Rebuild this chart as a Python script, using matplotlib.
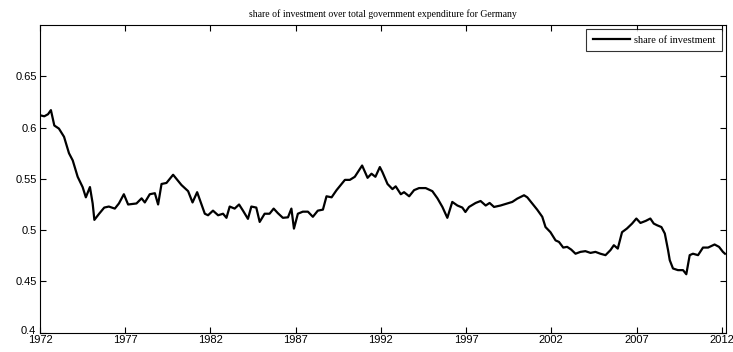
import matplotlib.pyplot as plt
from matplotlib.transforms import ScaledTranslation

# Share of investment in total government expenditure, Germany
years = [1972.00, 1972.25, 1972.47, 1972.64, 1972.84, 1973.11, 1973.41, 1973.70, 1973.92,
         1974.21, 1974.50, 1974.69, 1974.93, 1975.09, 1975.19, 1975.47, 1975.77, 1976.04,
         1976.39, 1976.63, 1976.92, 1977.17, 1977.66, 1977.96, 1978.15, 1978.44, 1978.74,
         1978.93, 1979.13, 1979.42, 1979.81, 1980.30, 1980.69, 1980.95, 1981.22, 1981.67,
         1981.86, 1982.15, 1982.45, 1982.74, 1982.94, 1983.13, 1983.42, 1983.68, 1983.91,
         1984.20, 1984.40, 1984.69, 1984.89, 1985.18, 1985.47, 1985.71, 1985.96, 1986.25,
         1986.55, 1986.75, 1986.90, 1987.13, 1987.42, 1987.72, 1988.01, 1988.30, 1988.60,
         1988.81, 1989.11, 1989.40, 1989.89, 1990.18, 1990.47, 1990.90, 1991.22, 1991.45,
         1991.68, 1991.94, 1992.09, 1992.39, 1992.68, 1992.87, 1993.17, 1993.36, 1993.66,
         1993.95, 1994.24, 1994.63, 1995.02, 1995.32, 1995.61, 1995.90, 1996.19, 1996.49,
         1996.78, 1996.96, 1997.17, 1997.56, 1997.85, 1998.15, 1998.38, 1998.64, 1999.02,
         1999.42, 1999.71, 2000.00, 2000.40, 2000.59, 2000.88, 2001.17, 2001.47, 2001.66,
         2001.95, 2002.25, 2002.45, 2002.70, 2002.93, 2003.17, 2003.42, 2003.71, 2004.00,
         2004.30, 2004.59, 2004.88, 2005.18, 2005.47, 2005.67, 2005.90, 2006.15, 2006.44,
         2006.74, 2006.99, 2007.23, 2007.54, 2007.81, 2008.01, 2008.20, 2008.46, 2008.66,
         2008.85, 2008.95, 2009.14, 2009.43, 2009.73, 2009.92, 2010.12, 2010.31, 2010.61,
         2010.90, 2011.20, 2011.58, 2011.84, 2012.07, 2012.19]
share = [0.612, 0.611, 0.613, 0.617, 0.602, 0.599, 0.591, 0.575, 0.568,
         0.552, 0.542, 0.532, 0.542, 0.526, 0.510, 0.516, 0.522, 0.523,
         0.521, 0.526, 0.535, 0.525, 0.526, 0.531, 0.527, 0.535, 0.536,
         0.525, 0.545, 0.546, 0.554, 0.544, 0.538, 0.527, 0.537, 0.516,
         0.5145, 0.519, 0.5145, 0.516, 0.512, 0.523, 0.521, 0.525, 0.519,
         0.511, 0.523, 0.522, 0.508, 0.516, 0.516, 0.521, 0.5165, 0.512,
         0.5125, 0.521, 0.5015, 0.516, 0.518, 0.518, 0.513, 0.519, 0.520,
         0.533, 0.532, 0.539, 0.549, 0.549, 0.552, 0.563, 0.551, 0.555,
         0.552, 0.5615, 0.5566, 0.545, 0.540, 0.5427, 0.535, 0.537, 0.533,
         0.539, 0.541, 0.541, 0.538, 0.531, 0.5226, 0.512, 0.5275, 0.524,
         0.522, 0.5177, 0.5226, 0.5265, 0.5284, 0.524, 0.5265, 0.5226, 0.524,
         0.526, 0.5275, 0.5307, 0.534, 0.532, 0.526, 0.520, 0.513, 0.503,
         0.498, 0.490, 0.4885, 0.483, 0.4837, 0.481, 0.477, 0.4788, 0.4795,
         0.4778, 0.4788, 0.477, 0.4756, 0.4805, 0.4853, 0.482, 0.498, 0.5016,
         0.5064, 0.5113, 0.507, 0.509, 0.5113, 0.5064, 0.5048, 0.503, 0.4967,
         0.4805, 0.4707, 0.4626, 0.461, 0.461, 0.457, 0.4756, 0.477, 0.4756,
         0.483, 0.483, 0.486, 0.4837, 0.4788, 0.477]

xticks = [1972, 1977, 1982, 1987, 1992, 1997, 2002, 2007, 2012]
yticks = [0.4, 0.45, 0.5, 0.55, 0.6, 0.65]
ytick_labels = ['0.4', '0.45', '0.5', '0.55', '0.6', '0.65']

fig = plt.figure(figsize=(7.33, 3.52), dpi=100)
ax = fig.add_axes([40 / 733, 1 - 332.7 / 352, 686 / 733, 307.7 / 352])

ax.plot(years, share, color='black', linewidth=1.6, label='share of investment')

ax.set_xlim(1972, 2012.25)
ax.set_ylim(0.4, 0.7)
ax.set_xticks(xticks)
ax.set_xticklabels([str(y) for y in xticks])
ax.set_yticks(yticks)
ax.set_yticklabels(ytick_labels)

ax.tick_params(direction='in', top=True, right=True, length=4, width=0.8,
               labelsize=8, pad=2)
for lbl in ax.get_xticklabels() + ax.get_yticklabels():
    lbl.set_fontfamily('Liberation Sans')

# lift the bottom y label a touch so it clears the first year label
low = ax.get_yticklabels()[0]
low.set_transform(low.get_transform() +
                  ScaledTranslation(-1.5 / 100, 2.5 / 100, fig.dpi_scale_trans))

for sp in ax.spines.values():
    sp.set_linewidth(0.8)

ax.set_title('share of investment over total government expenditure for Germany',
             fontsize=7, family='Liberation Serif', pad=6)

leg = ax.legend(loc='upper right', frameon=True, fancybox=False,
                handlelength=3.6, handletextpad=0.4, borderaxespad=0.4,
                borderpad=0.6, prop={'family': 'Liberation Serif', 'size': 7.5})
leg.get_frame().set_edgecolor('black')
leg.get_frame().set_linewidth(0.8)

fig.savefig('out.png', dpi=100)
